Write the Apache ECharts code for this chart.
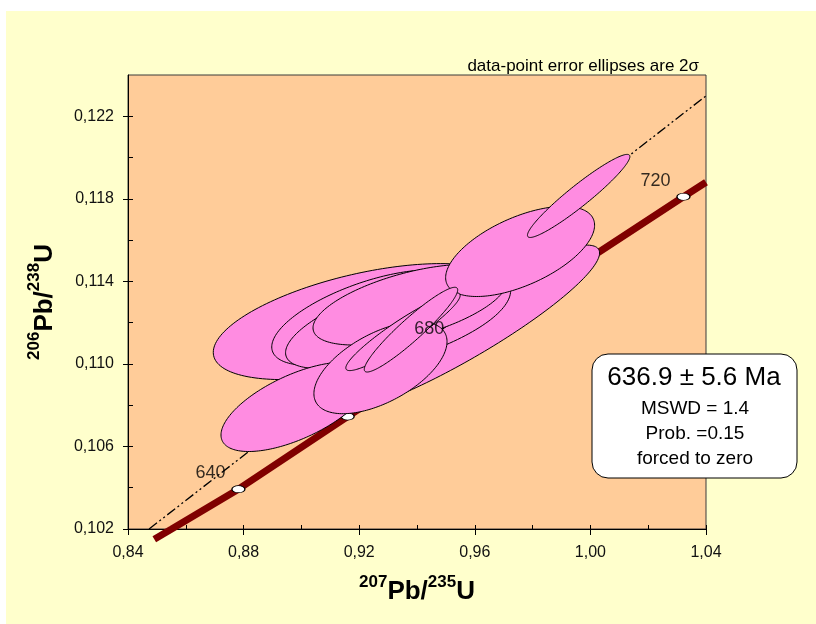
<!DOCTYPE html>
<html>
<head>
<meta charset="utf-8">
<script src="https://cdn.jsdelivr.net/npm/echarts@6/dist/echarts.min.js"></script>
<style>
  html, body { margin: 0; padding: 0; background: #ffffff; }
  #chart { width: 816px; height: 624px; }
</style>
</head>
<body>
<div id="chart"></div>
<script>
// Axis ticks (207Pb/235U on x, 206Pb/238U on y)
const xMajor = [0.84, 0.88, 0.92, 0.96, 1.00, 1.04];
const xMinor = [0.86, 0.90, 0.94, 0.98, 1.02];
const yMajor = [0.102, 0.106, 0.110, 0.114, 0.118, 0.122];
const yMinor = [0.104, 0.108, 0.112, 0.116, 0.120];

// Concordia curve trace
const concordiaX = [0.8491, 0.8551, 0.8782, 0.9160, 0.9539, 0.9927, 1.0322, 1.0400];
const concordiaY = [0.10150, 0.10200, 0.10393, 0.10745, 0.11093, 0.11448, 0.11810, 0.11880];

// Age marks on the concordia (Ma)
const ageMa = [640, 660, 680, 700, 720];
const ageX = [0.8782, 0.9160, 0.9539, 0.9927, 1.0322];
const ageY = [0.10393, 0.10745, 0.11093, 0.11448, 0.11810];
const ageLabelled = [640, 680, 720];

// Regression line (dash-dot)
const chordX = [0.8473, 1.0400];
const chordY = [0.10200, 0.12299];

// Analyses, back to front: centre, 2-sigma half widths, error correlation
const ellX   = [0.95489, 0.92095, 0.92372, 0.92649, 0.93758, 0.97568, 0.89809, 0.92736, 0.93515, 0.93792, 0.99594];
const ellY   = [0.11166, 0.11205, 0.11224, 0.11190, 0.11287, 0.11545, 0.10792, 0.10982, 0.11156, 0.11166, 0.11814];
const ellEX  = [0.04829, 0.05144, 0.03398, 0.03197, 0.03356, 0.02577, 0.02591, 0.02303, 0.01978, 0.01616, 0.01772];
const ellEY  = [0.004097, 0.002811, 0.002320, 0.002121, 0.001956, 0.002184, 0.002165, 0.002233, 0.001884, 0.002053, 0.002013];
const ellRho = [0.9068, 0.5303, 0.6113, 0.6399, 0.5746, 0.582, 0.6302, 0.565, 0.931, 0.938, 0.9467];

const fmtComma = (d) => (v) => v.toFixed(d).replace('.', ',');

const concordiaData = concordiaX.map((x, i) => [x, concordiaY[i]]);
const ageData = ageX.map((x, i) => [x, ageY[i], ageMa[i]]);
const ageLabelData = ageData.filter(d => ageLabelled.includes(d[2]));
const chordData = chordX.map((x, i) => [x, chordY[i]]);
const ellipseData = ellX.map((x, i) => [x, ellY[i], ellEX[i], ellEY[i], ellRho[i]]);

const FONT = '"Liberation Sans", Arial, sans-serif';
const axisFont = { fontFamily: FONT, fontSize: 16, color: '#111' };
const nameRich = {
  m: { fontFamily: FONT, fontSize: 26, fontWeight: 'bold', color: '#000', lineHeight: 30 },
  s: { fontFamily: FONT, fontSize: 17, fontWeight: 'bold', color: '#000', lineHeight: 18, padding: [0, 0, 20, 0] }
};

const chart = echarts.init(document.getElementById('chart'), null, { renderer: 'canvas' });

const option = {
  backgroundColor: '#ffffff',
  animation: false,
  grid: {
    left: 128, top: 75, right: 110, bottom: 95,
    show: true, backgroundColor: '#FFCC99', borderColor: '#3a3a3a', borderWidth: 1
  },
  xAxis: [
    {
      type: 'value', min: 0.84, max: 1.04, interval: 0.04, position: 'bottom',
      axisLine: { show: true, onZero: false, lineStyle: { color: '#000', width: 1 } },
      axisTick: { show: true, inside: false, length: 6, lineStyle: { color: '#000' } },
      axisLabel: { ...axisFont, margin: 16, formatter: fmtComma(2) },
      splitLine: { show: false },
      name: '{s|207}{m|Pb/}{s|235}{m|U}', nameLocation: 'middle', nameGap: 48,
      nameTextStyle: { rich: nameRich }
    },
    {
      type: 'value', min: 0.84, max: 1.04, position: 'bottom',
      axisLine: { show: false, onZero: false },
      axisTick: { show: true, inside: true, length: 4, customValues: xMajor.concat(xMinor), lineStyle: { color: '#000' } },
      axisLabel: { show: false }, splitLine: { show: false }
    }
  ],
  yAxis: [
    {
      type: 'value', min: 0.102, max: 0.124, position: 'left',
      axisLine: { show: true, onZero: false, lineStyle: { color: '#000', width: 1 } },
      axisTick: { show: true, inside: false, length: 5, customValues: yMajor, lineStyle: { color: '#000' } },
      axisLabel: { ...axisFont, margin: 14, customValues: yMajor, formatter: fmtComma(3) },
      splitLine: { show: false },
      name: '{s|206}{m|Pb/}{s|238}{m|U}', nameLocation: 'middle', nameGap: 66, nameRotate: 90,
      nameTextStyle: { rich: nameRich }
    },
    {
      type: 'value', min: 0.102, max: 0.124, position: 'left',
      axisLine: { show: false, onZero: false },
      axisTick: { show: true, inside: true, length: 5, customValues: yMajor.concat(yMinor), lineStyle: { color: '#000' } },
      axisLabel: { show: false }, splitLine: { show: false }
    }
  ],
  series: [
    {
      name: 'concordia', type: 'line', data: concordiaData, showSymbol: false, clip: false,
      lineStyle: { color: '#800000', width: 7, cap: 'butt' }, z: 2, silent: true
    },
    {
      name: 'chord', type: 'line', data: chordData, showSymbol: false,
      lineStyle: { color: '#000', width: 1.3, type: [10, 3, 2, 3, 2, 3] }, z: 2, silent: true
    },
    {
      name: 'ages', type: 'scatter', data: ageData, symbol: 'circle', symbolSize: [13, 7],
      itemStyle: { color: '#ffffff', borderColor: '#000', borderWidth: 1, opacity: 1 }, z: 3, silent: true
    },
    {
      name: 'analyses', type: 'custom', data: ellipseData, z: 5, silent: true,
      renderItem: function (params, api) {
        const cx = api.value(0), cy = api.value(1), ex = api.value(2), ey = api.value(3), r = api.value(4);
        const k = Math.sqrt(1 - r * r);
        const pts = [];
        for (let i = 0; i < 180; i++) {
          const t = i / 180 * Math.PI * 2;
          pts.push(api.coord([cx + ex * Math.cos(t), cy + ey * (r * Math.cos(t) + k * Math.sin(t))]));
        }
        return { type: 'polygon', shape: { points: pts }, style: { fill: '#FF8CE1', stroke: '#000', lineWidth: 1 } };
      }
    },
    {
      name: 'age labels', type: 'scatter', data: ageLabelData, symbolSize: 0, z: 10, silent: true,
      label: {
        show: true, position: 'inside', offset: [-28, -16],
        formatter: (p) => String(p.value[2]),
        fontFamily: FONT, fontSize: 18, color: '#000'
      }
    }
  ],
  graphic: [
    { type: 'rect', z: -100, silent: true, shape: { x: 6, y: 11, width: 810, height: 613 }, style: { fill: '#FFFFCC' } },
    {
      type: 'text', z: 50, silent: true, x: 699, y: 66,
      style: { text: 'data-point error ellipses are 2σ', font: '17px ' + FONT, fill: '#000', textAlign: 'right', textVerticalAlign: 'middle' }
    },
    {
      type: 'group', z: 50, silent: true,
      children: [
        { type: 'rect', shape: { x: 592, y: 354, width: 205, height: 124, r: 16 }, style: { fill: '#ffffff', stroke: '#000', lineWidth: 1 } },
        { type: 'text', x: 694, y: 378, style: { text: '636.9 ± 5.6 Ma', font: '26px ' + FONT, fill: '#000', textAlign: 'center', textVerticalAlign: 'middle' } },
        { type: 'text', x: 695, y: 408.5, style: { text: 'MSWD = 1.4', font: '19px ' + FONT, fill: '#000', textAlign: 'center', textVerticalAlign: 'middle' } },
        { type: 'text', x: 695, y: 433.5, style: { text: 'Prob. =0.15', font: '19px ' + FONT, fill: '#000', textAlign: 'center', textVerticalAlign: 'middle' } },
        { type: 'text', x: 695, y: 458.5, style: { text: 'forced to zero', font: '19px ' + FONT, fill: '#000', textAlign: 'center', textVerticalAlign: 'middle' } }
      ]
    }
  ]
};

chart.setOption(option);
</script>
</body>
</html>
